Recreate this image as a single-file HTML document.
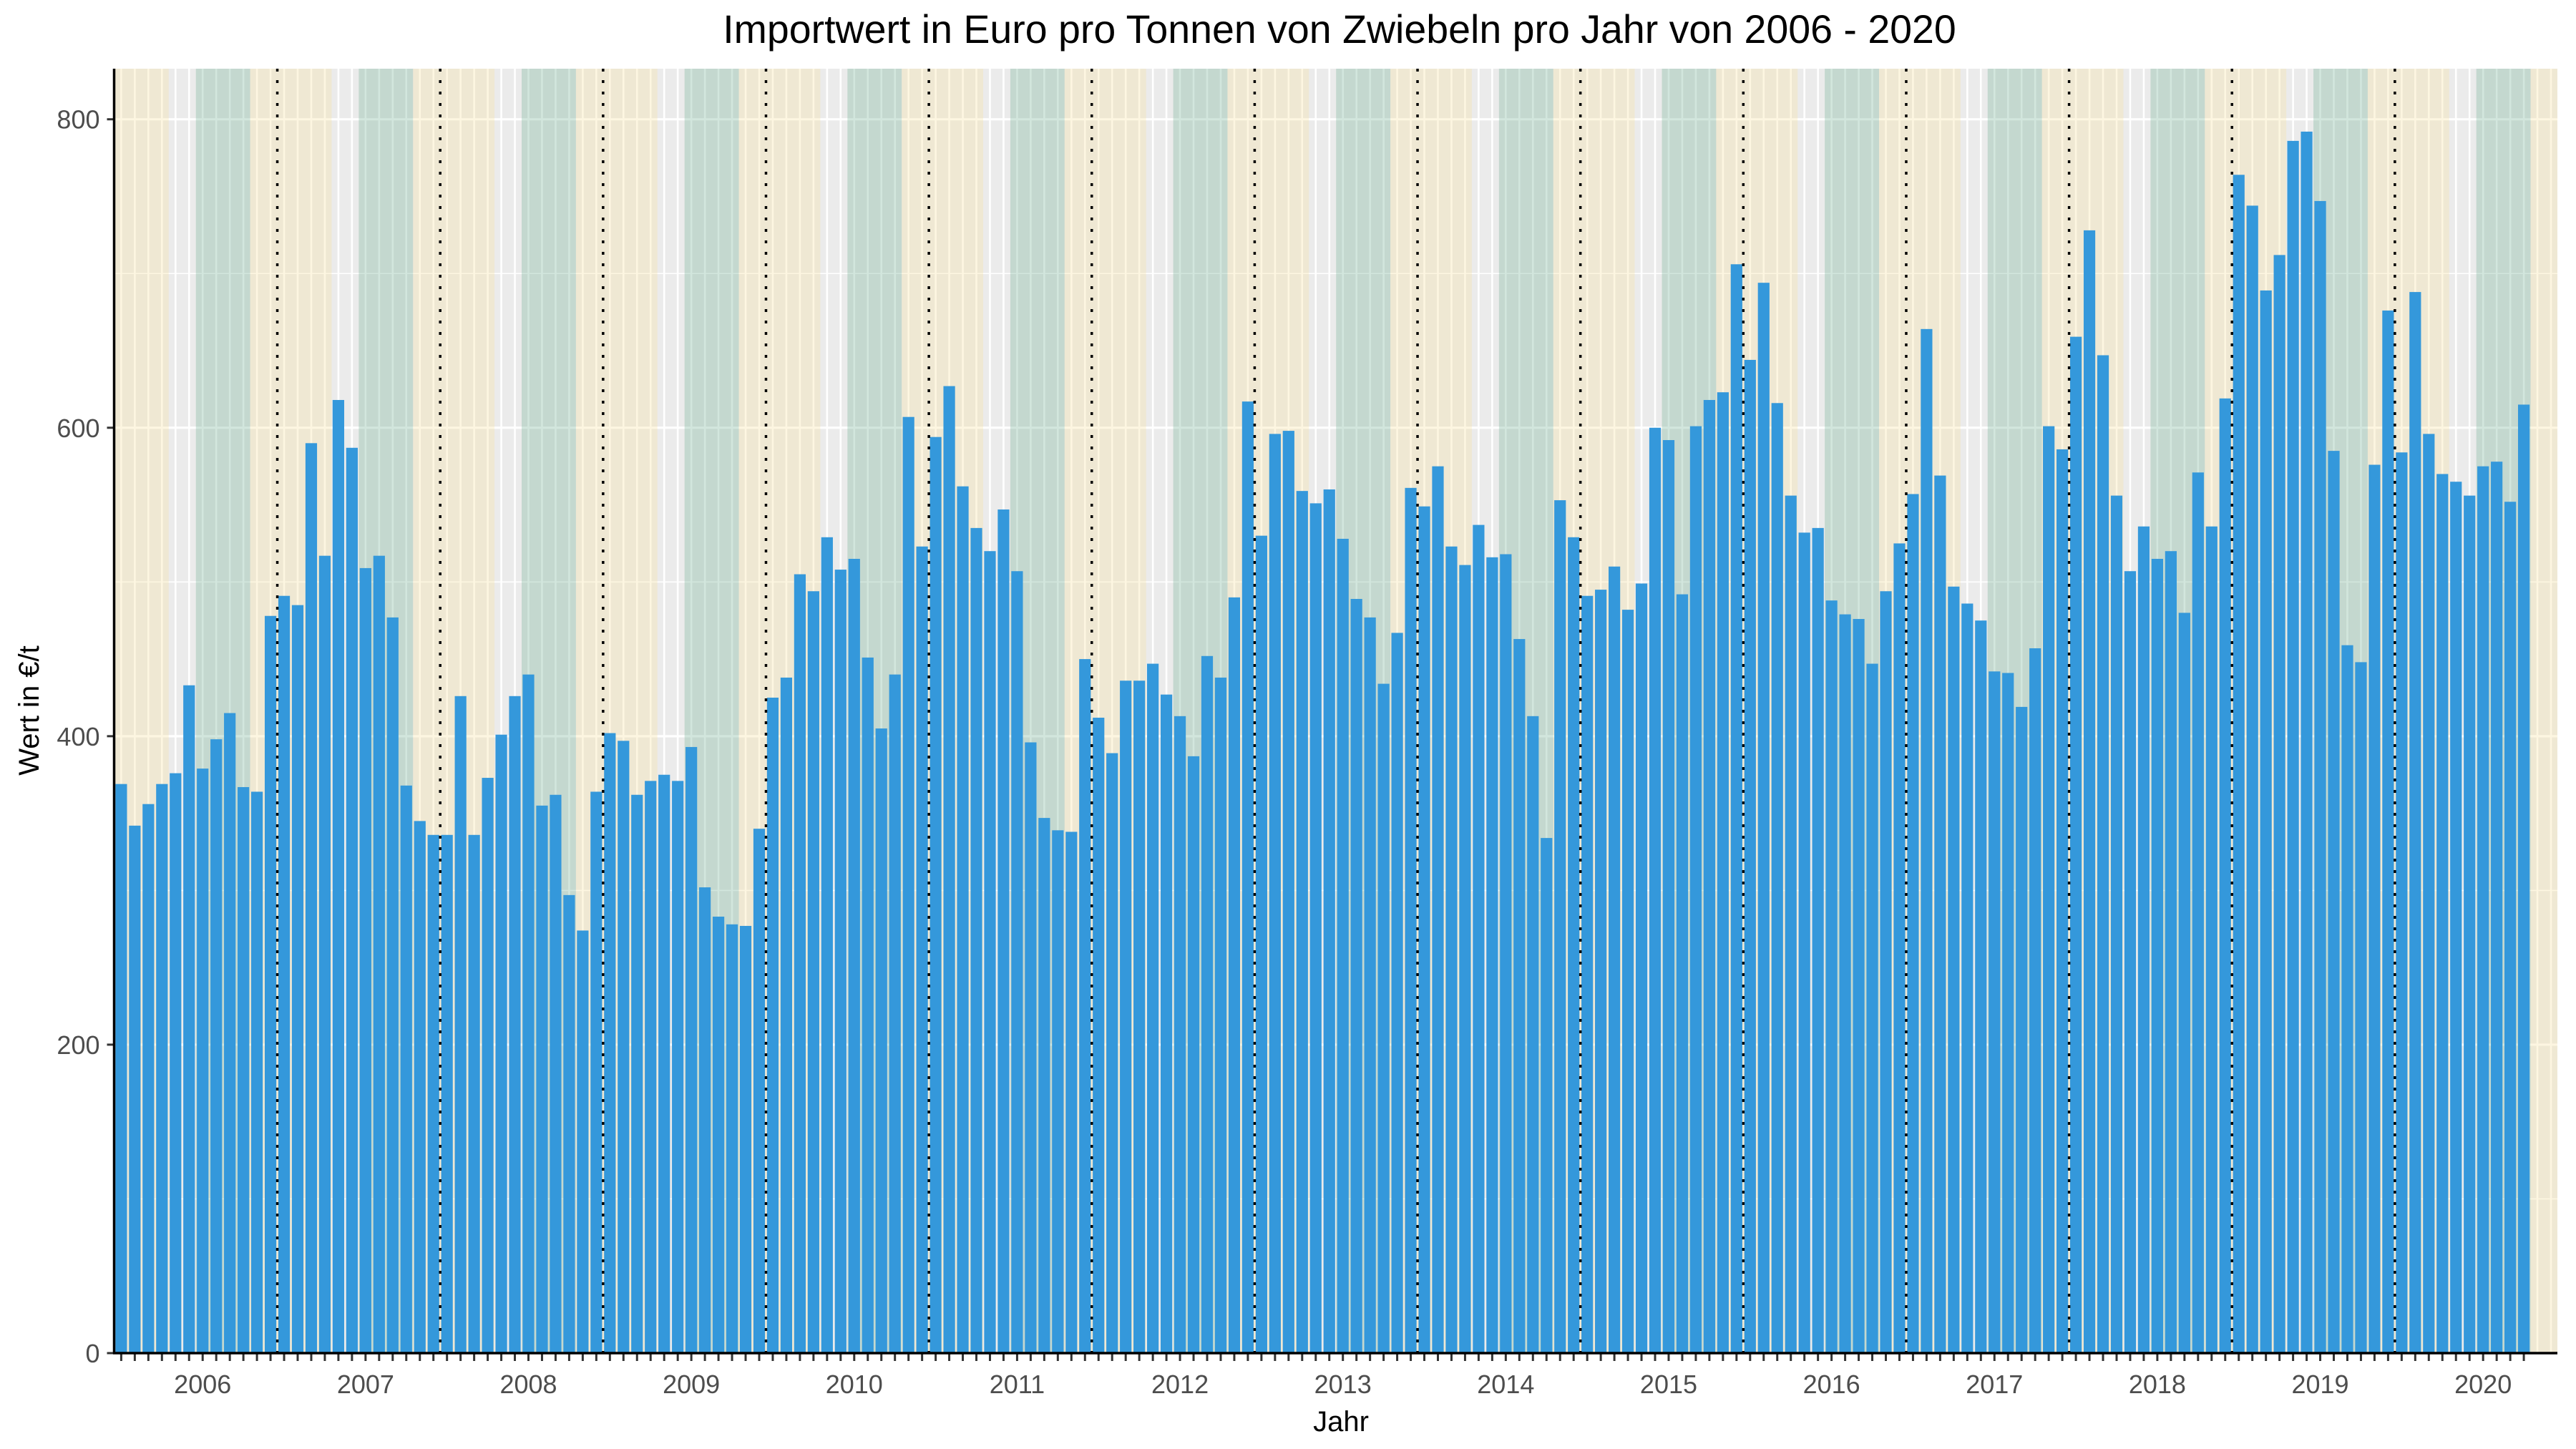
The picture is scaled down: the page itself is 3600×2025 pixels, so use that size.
<!DOCTYPE html>
<html><head><meta charset="utf-8"><title>Importwert Zwiebeln</title>
<style>html,body{margin:0;padding:0;background:#fff}svg{display:block}</style></head>
<body>
<svg id="chart" xmlns="http://www.w3.org/2000/svg" width="3600" height="2025" viewBox="0 0 3600 2025" font-family="Liberation Sans, Arial, sans-serif">
<rect x="159.5" y="96" width="3414.5" height="1795" fill="#ebebeb"/>
<g id="grid"></g>
<g id="bands"></g>
<g id="bars"></g>
<g id="yearlines"></g>
<g id="axes"></g>
<text x="1872" y="60" text-anchor="middle" font-size="55.5" fill="#000">Importwert in Euro pro Tonnen von Zwiebeln pro Jahr von 2006 - 2020</text>
<text x="1874" y="2000" text-anchor="middle" font-size="40" fill="#000">Jahr</text>
<text x="0" y="0" transform="translate(54,993) rotate(-90)" text-anchor="middle" font-size="40" fill="#000">Wert in €/t</text>
</svg>
<script>
const startYear = 2006;
const values = [
369,342,356,369,376,433,379,398,415,367,364,478,
491,485,590,517,618,587,509,517,477,368,345,336,
336,426,336,373,401,426,440,355,362,297,274,364,
402,397,362,371,375,371,393,302,283,278,277,340,
425,438,505,494,529,508,515,451,405,440,607,523,
594,627,562,535,520,547,507,396,347,339,338,450,
412,389,436,436,447,427,413,387,452,438,490,617,
530,596,598,559,551,560,528,489,477,434,467,561,
549,575,523,511,537,516,518,463,413,334,553,529,
491,495,510,482,499,600,592,492,601,618,623,706,
644,694,616,556,532,535,488,479,476,447,494,525,
557,664,569,497,486,475,442,441,419,457,601,586,
659,728,647,556,507,536,515,520,480,571,536,619,
764,744,689,712,786,792,747,585,459,448,576,676,
584,688,596,570,565,556,575,578,552,615];
const yTicks = [0,200,400,600,800];
const yMinor = [100,300,500,700];
const yearLabels = ["2006","2007","2008","2009","2010","2011","2012","2013","2014","2015","2016","2017","2018","2019","2020"];

const NS = "http://www.w3.org/2000/svg";
const PL = 159.5, PR = 3574, PT = 96, PB = 1891;
const X0 = 169.4, STEP = 18.97, BW = 16.2;
const xs = i => X0 + i * STEP;
const ys = v => PB - v * (PB - 166.7) / 800;
function mk(tag, parent, attrs) {
  const e = document.createElementNS(NS, tag);
  for (const k in attrs) e.setAttribute(k, attrs[k]);
  parent.appendChild(e);
  return e;
}
const grid = document.getElementById('grid');
yMinor.forEach(v => {
  const l = mk('line', grid, {x1: PL, x2: PR, y1: ys(v), y2: ys(v), stroke: '#fff', 'stroke-width': 1.6});
  
  
});
yTicks.forEach(v => {
  const l = mk('line', grid, {x1: PL, x2: PR, y1: ys(v), y2: ys(v), stroke: '#fff', 'stroke-width': 3.2});
  
  
});
for (let i = 0; i < values.length + 2; i++) {
  const l = mk('line', grid, {x1: xs(i), x2: xs(i), y1: PT, y2: PB, stroke: '#fff', 'stroke-width': 2.6});
  
  
}
const bands = document.getElementById('bands');
const nYears = yearLabels.length + 1;
for (let y = 0; y < nYears; y++) {
  const k = 12 * y;
  const ya = Math.max(PL, xs(k - 2.5)), yb = Math.min(PR, xs(k + 3.5));
  if (yb > ya) {
    const r = mk('rect', bands, {x: ya, y: PT, width: yb - ya, height: PB - PT, fill: '#f8e19b', 'fill-opacity': 0.3});
    
    
  }
  const ga = Math.max(PL, xs(k + 5.5)), gb = Math.min(PR, xs(k + 9.5));
  if (gb > ga) {
    const r = mk('rect', bands, {x: ga, y: PT, width: gb - ga, height: PB - PT, fill: '#69ac8e', 'fill-opacity': 0.3});
    
    
  }
}
const barsG = document.getElementById('bars');
values.forEach((v, i) => {
  const r = mk('rect', barsG, {x: xs(i) - BW / 2, y: ys(v), width: BW, height: PB - ys(v), fill: '#3498db'});
  
  
});
const yl = document.getElementById('yearlines');
for (let y = 1; y < yearLabels.length; y++) {
  const x = xs(12 * y - 0.5);
  const l = mk('line', yl, {x1: x, x2: x, y1: PT, y2: PB, stroke: '#000', 'stroke-width': 3.5, 'stroke-dasharray': '4 12'});
  
  
}
const ax = document.getElementById('axes');
yTicks.forEach(v => {
  const t = mk('line', ax, {x1: PL - 10, x2: PL, y1: ys(v), y2: ys(v), stroke: '#333', 'stroke-width': 3});
  
  
  const tx = mk('text', ax, {x: PL - 20, y: ys(v) + 13, 'text-anchor': 'end', 'font-size': 36, fill: '#4d4d4d'});
  tx.textContent = v;
  
  
});
for (let i = 0; i < values.length; i++) {
  const t = mk('line', ax, {x1: xs(i), x2: xs(i), y1: PB, y2: PB + 11, stroke: '#333', 'stroke-width': 3});
  
  
}
yearLabels.forEach((lab, y) => {
  const tx = mk('text', ax, {x: xs(12 * y + 6), y: PB + 56, 'text-anchor': 'middle', 'font-size': 36, fill: '#4d4d4d'});
  tx.textContent = lab;
  
  
});
const la = mk('line', ax, {x1: PL, x2: PL, y1: PT, y2: PB + 1.5, stroke: '#000', 'stroke-width': 3.5});


const lb = mk('line', ax, {x1: PL - 1.5, x2: PR, y1: PB, y2: PB, stroke: '#000', 'stroke-width': 3.5});


</script>
</body></html>
